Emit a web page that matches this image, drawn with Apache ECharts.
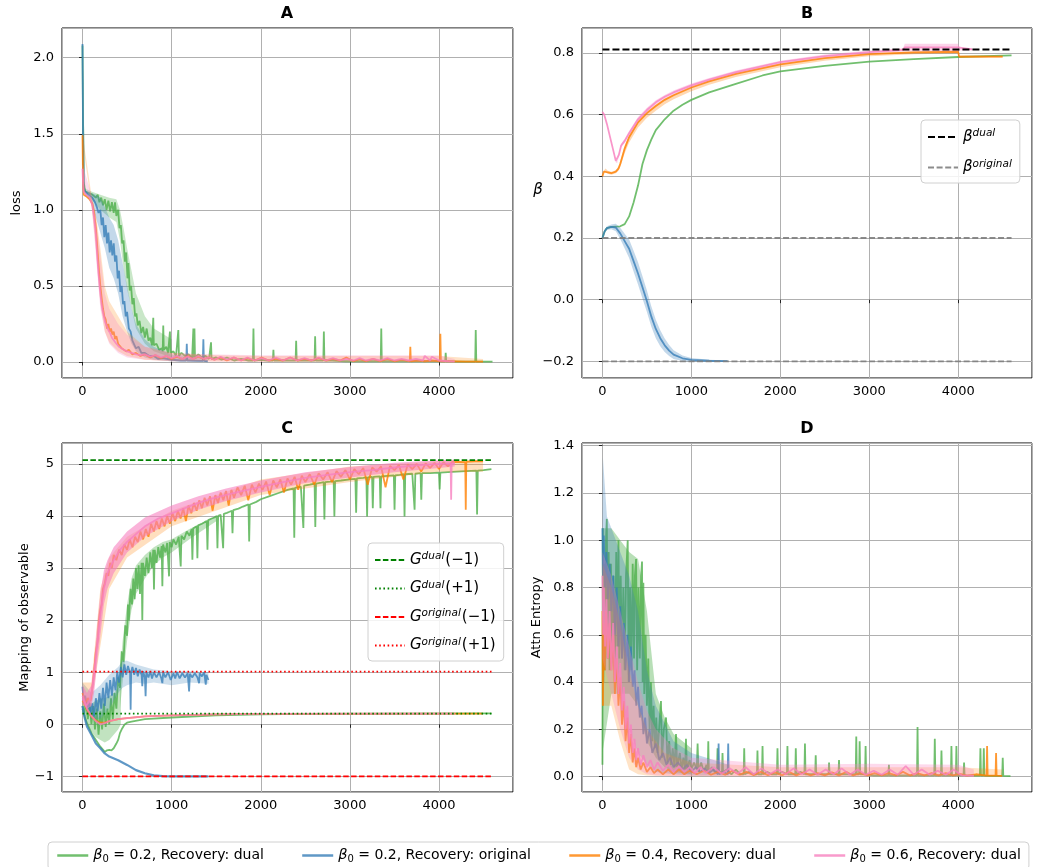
<!DOCTYPE html>
<html><head><meta charset="utf-8">
<script src="https://cdn.jsdelivr.net/npm/echarts@6/dist/echarts.min.js"></script>
<style>html,body{margin:0;padding:0;background:#fff}#c{width:1038px;height:867px}</style>
</head><body><div id="c"></div>
<script>
// ---------------- DATA ----------------
const REF_X = [0, 4600];
// Panel B reference levels
const BETA_DUAL = 0.811, BETA_ORIG = [0.2, -0.2];
// Panel C reference levels
const G_DUAL_M1 = 5.07, G_DUAL_P1 = 0.205, G_ORIG_M1 = -1.0, G_ORIG_P1 = 1.01;

// ---- Panel A (loss) ----
const A_green = [[0,2.08],[6,1.6],[14,1.18],[30,1.12],[70,1.11],[110,1.1],[150,1.08],[170,1.1],[190,1.05],[210,1.08],[230,1.03],[250,1.07],[270,1.0],[290,1.06],[310,0.99],[330,1.05],[350,0.98],[365,1.05],[380,0.96],[400,1.0],[415,0.88],[430,0.9],[445,0.78],[460,0.8],[475,0.66],[490,0.72],[505,0.55],[515,0.65],[530,0.47],[545,0.5],[560,0.38],[575,0.42],[590,0.3],[605,0.32],[620,0.24],[640,0.27],[660,0.19],[680,0.23],[700,0.16],[720,0.22],[740,0.14],[760,0.16],[780,0.11],[788,0.12],[794,0.29],[800,0.11],[830,0.12],[860,0.08],[890,0.09],[900,0.07],[906,0.24],[912,0.08],[940,0.1],[960,0.06],[975,0.07],[981,0.2],[988,0.06],[1020,0.07],[1050,0.04],[1068,0.05],[1075,0.21],[1082,0.04],[1110,0.06],[1150,0.04],[1190,0.05],[1230,0.03],[1240,0.04],[1244,0.22],[1250,0.03],[1256,0.22],[1262,0.03],[1300,0.05],[1340,0.03],[1380,0.04],[1420,0.02],[1436,0.03],[1442,0.13],[1448,0.02],[1500,0.03],[1560,0.015],[1620,0.03],[1700,0.01],[1780,0.02],[1860,0.01],[1912,0.01],[1918,0.22],[1924,0.01],[2000,0.015],[2080,0.01],[2136,0.01],[2142,0.08],[2148,0.01],[2220,0.01],[2300,0.01],[2391,0.01],[2397,0.14],[2403,0.01],[2500,0.01],[2604,0.01],[2610,0.17],[2616,0.01],[2702,0.01],[2708,0.2],[2714,0.01],[2800,0.01],[2950,0.005],[3100,0.005],[3250,0.005],[3346,0.005],[3352,0.22],[3358,0.005],[3500,0.005],[3700,0.005],[3900,0.005],[4069,0.005],[4075,0.06],[4081,0.005],[4200,0.003],[4406,0.003],[4412,0.21],[4418,0.003],[4600,0.002]];
const A_blue = [[0,2.09],[6,1.5],[14,1.15],[30,1.12],[70,1.1],[110,1.08],[140,1.05],[160,1.02],[180,0.98],[200,1.0],[215,0.9],[230,0.95],[245,0.82],[260,0.9],[275,0.78],[290,0.85],[305,0.72],[320,0.8],[335,0.7],[350,0.78],[365,0.66],[380,0.7],[395,0.55],[410,0.6],[425,0.46],[440,0.5],[455,0.38],[470,0.4],[485,0.3],[500,0.33],[520,0.22],[540,0.2],[560,0.14],[580,0.15],[600,0.09],[630,0.1],[660,0.06],[700,0.06],[750,0.04],[800,0.04],[850,0.02],[900,0.025],[1000,0.015],[1100,0.01],[1164,0.01],[1170,0.12],[1176,0.01],[1200,0.01],[1300,0.008],[1350,0.008],[1356,0.15],[1362,0.008],[1405,0.005]];
const A_orange = [[0,1.49],[6,1.2],[14,1.1],[40,1.09],[80,1.07],[110,1.04],[130,0.98],[150,0.88],[170,0.72],[185,0.6],[200,0.5],[215,0.42],[230,0.35],[245,0.3],[260,0.28],[275,0.22],[290,0.25],[305,0.2],[320,0.22],[335,0.18],[350,0.2],[365,0.15],[380,0.17],[400,0.12],[420,0.13],[440,0.09],[460,0.1],[490,0.07],[520,0.08],[560,0.05],[600,0.06],[650,0.04],[700,0.05],[760,0.03],[820,0.045],[880,0.025],[940,0.04],[1000,0.02],[1060,0.035],[1120,0.02],[1180,0.04],[1240,0.02],[1300,0.035],[1360,0.02],[1420,0.03],[1480,0.015],[1550,0.03],[1620,0.01],[1700,0.03],[1780,0.01],[1850,0.025],[1930,0.01],[2010,0.03],[2090,0.01],[2170,0.02],[2250,0.01],[2330,0.03],[2410,0.01],[2490,0.02],[2570,0.01],[2650,0.025],[2730,0.01],[2810,0.02],[2890,0.01],[2960,0.03],[3040,0.005],[3110,0.02],[3180,0.005],[3260,0.02],[3340,0.005],[3420,0.02],[3500,0.005],[3580,0.015],[3672,0.005],[3678,0.1],[3684,0.005],[3760,0.01],[3840,0.005],[3920,0.01],[4009,0.005],[4015,0.186],[4021,0.005],[4100,0.005],[4300,0.003],[4494,0.002]];
const A_pink = [[0,1.27],[6,1.18],[14,1.12],[40,1.1],[80,1.08],[110,1.03],[130,0.95],[150,0.84],[165,0.7],[180,0.58],[195,0.48],[210,0.4],[225,0.34],[240,0.3],[255,0.26],[270,0.24],[290,0.21],[310,0.19],[330,0.16],[350,0.15],[380,0.12],[410,0.1],[450,0.085],[500,0.07],[550,0.06],[600,0.05],[650,0.045],[700,0.05],[760,0.035],[820,0.045],[880,0.03],[940,0.04],[1000,0.025],[1060,0.04],[1120,0.02],[1180,0.035],[1240,0.02],[1300,0.04],[1360,0.02],[1420,0.03],[1480,0.015],[1550,0.035],[1620,0.015],[1700,0.03],[1780,0.01],[1850,0.03],[1930,0.01],[2010,0.025],[2090,0.01],[2170,0.03],[2250,0.01],[2330,0.03],[2410,0.01],[2490,0.025],[2570,0.01],[2650,0.03],[2730,0.01],[2810,0.025],[2890,0.01],[2960,0.02],[3040,0.01],[3110,0.025],[3180,0.01],[3260,0.02],[3340,0.01],[3420,0.025],[3500,0.01],[3580,0.02],[3660,0.01],[3740,0.02],[3820,0.01],[3840,0.04],[3900,0.01],[3920,0.035],[4000,0.01],[4100,0.005],[4176,0.003]];
// light bands (panel A)
const A_greenBandX = [0,30,100,200,300,380,420,460,500,550,600,700,800,1000];
const A_greenBandLo = [2.0,1.1,1.07,1.0,0.95,0.92,0.8,0.62,0.48,0.35,0.22,0.12,0.07,0.03];
const A_greenBandHi = [2.09,1.14,1.12,1.1,1.08,1.07,1.0,0.88,0.75,0.6,0.45,0.3,0.22,0.15];
const A_blueBandX = [0,30,100,150,200,250,300,350,400,450,500,550,600,700,800,1000,1200,1405];
const A_blueBandLo = [2.0,1.1,1.05,0.95,0.85,0.75,0.62,0.55,0.45,0.3,0.2,0.12,0.07,0.03,0.015,0.005,0.003,0.002];
const A_blueBandHi = [2.1,1.13,1.11,1.1,1.08,1.02,0.95,0.9,0.8,0.65,0.5,0.35,0.25,0.15,0.1,0.05,0.04,0.02];
const A_orangeBandX = [0,100,150,200,250,300,400,500,700,1000,1500,2000,3000,4000,4494];
const A_orangeBandLo = [1.45,1.03,0.75,0.38,0.2,0.13,0.07,0.04,0.015,0.005,0.003,0.002,0.002,0.002,0.002];
const A_orangeBandHi = [1.5,1.1,0.97,0.75,0.5,0.4,0.3,0.2,0.1,0.06,0.045,0.04,0.04,0.04,0.02];
const A_pinkBandX = [0,100,150,200,250,300,400,500,700,1000,1500,2000,3000,4000,4176];
const A_pinkBandLo = [1.2,1.05,0.7,0.35,0.2,0.12,0.06,0.03,0.015,0.005,0.003,0.002,0.002,0.002,0.002];
const A_pinkBandHi = [1.3,1.1,0.95,0.7,0.45,0.35,0.25,0.18,0.1,0.06,0.05,0.045,0.045,0.045,0.02];

// ---- Panel B (beta) ----
const B_green = [[0,0.2],[25,0.222],[50,0.232],[100,0.236],[150,0.237],[200,0.238],[250,0.245],[300,0.27],[350,0.315],[400,0.37],[450,0.44],[500,0.485],[550,0.52],[600,0.55],[700,0.585],[800,0.613],[900,0.632],[1000,0.648],[1200,0.672],[1500,0.7],[1800,0.727],[2000,0.74],[2500,0.758],[3000,0.772],[3500,0.78],[4000,0.787],[4600,0.792]];
const B_blueX = [0,25,50,100,150,200,250,300,350,400,450,500,550,600,650,700,750,800,900,1000,1200,1407];
const B_blueMean = [0.2,0.222,0.232,0.236,0.234,0.215,0.19,0.165,0.125,0.085,0.04,-0.005,-0.055,-0.095,-0.125,-0.148,-0.165,-0.178,-0.19,-0.195,-0.198,-0.199];
const B_blueLo = [0.2,0.218,0.226,0.228,0.222,0.197,0.166,0.135,0.091,0.049,0.004,-0.04,-0.088,-0.125,-0.151,-0.17,-0.183,-0.192,-0.199,-0.201,-0.201,-0.201];
const B_blueHi = [0.2,0.226,0.238,0.244,0.246,0.233,0.214,0.195,0.159,0.121,0.076,0.03,-0.022,-0.065,-0.099,-0.126,-0.147,-0.164,-0.181,-0.189,-0.195,-0.197];
const B_orangeX = [0,15,35,60,100,150,180,200,250,300,400,500,600,700,800,1000,1200,1500,2000,2500,3000,3500,4000,4010,4500];
const B_orangeMean = [0.4,0.415,0.42,0.413,0.41,0.415,0.425,0.44,0.49,0.527,0.575,0.605,0.628,0.648,0.663,0.688,0.708,0.732,0.763,0.783,0.796,0.802,0.804,0.788,0.788];
const B_orangeLo = [0.4,0.412,0.415,0.408,0.405,0.41,0.418,0.43,0.475,0.51,0.558,0.59,0.613,0.634,0.65,0.676,0.697,0.722,0.754,0.775,0.789,0.796,0.798,0.784,0.785];
const B_orangeHi = [0.4,0.418,0.425,0.418,0.415,0.42,0.432,0.45,0.5,0.535,0.582,0.611,0.633,0.652,0.667,0.692,0.712,0.736,0.767,0.787,0.8,0.806,0.808,0.792,0.791];
const B_pinkX = [0,20,50,100,150,165,185,210,250,300,400,500,600,700,800,1000,1200,1500,2000,2500,3000,3380,3400,4000,4020,4157];
const B_pinkMean = [0.609,0.6,0.57,0.51,0.45,0.446,0.47,0.5,0.515,0.54,0.585,0.615,0.64,0.658,0.672,0.695,0.714,0.738,0.77,0.79,0.803,0.81,0.818,0.818,0.812,0.812];
const B_pinkLo = [0.607,0.597,0.566,0.506,0.446,0.442,0.465,0.494,0.508,0.533,0.578,0.608,0.633,0.652,0.666,0.689,0.709,0.733,0.765,0.785,0.798,0.805,0.806,0.806,0.808,0.808];
const B_pinkHi = [0.611,0.603,0.574,0.514,0.454,0.45,0.476,0.506,0.522,0.547,0.592,0.622,0.647,0.664,0.678,0.701,0.719,0.743,0.775,0.795,0.808,0.815,0.83,0.83,0.816,0.816];

// ---- Panel C (mapping of observable) ----
const C_greenUp = [[0,0.35],[20,0.2],[40,0.45],[60,0.1],[80,0.4],[100,0.0],[120,0.35],[140,-0.1],[160,0.3],[180,-0.2],[200,0.25],[220,-0.1],[240,0.4],[260,-0.05],[280,0.3],[300,0.0],[320,0.5],[340,0.1],[360,0.6],[380,0.3],[400,0.9],[420,0.7],[440,1.4],[460,1.2],[480,1.9],[500,1.7],[510,2.3],[520,2.0],[540,2.6],[555,2.3],[570,2.8],[585,2.4],[600,3.0],[615,2.6],[630,3.05],[645,2.5],[663,3.1],[671,2.0],[679,3.1],[700,2.85],[720,3.2],[740,2.9],[760,3.3],[780,3.0],[794,3.35],[802,2.59],[810,3.35],[830,3.1],[850,3.4],[870,3.2],[888,3.42],[896,2.65],[904,3.45],[930,3.3],[950,3.48],[963,3.45],[971,2.84],[979,3.5],[1000,3.4],[1020,3.55],[1050,3.45],[1080,3.6],[1094,3.6],[1102,3.03],[1110,3.62],[1140,3.55],[1170,3.7],[1200,3.62],[1225,3.75],[1233,3.16],[1241,3.76],[1281,3.8],[1289,3.19],[1297,3.82],[1340,3.85],[1370,3.88],[1394,3.9],[1402,3.35],[1410,3.92],[1450,3.95],[1480,3.97],[1506,4.0],[1514,3.38],[1522,4.0],[1550,4.02],[1570,4.03],[1578,3.38],[1586,4.04],[1620,4.06],[1650,4.08],[1675,4.1],[1683,3.67],[1691,4.11],[1750,4.14],[1800,4.18],[1862,4.22],[1870,3.51],[1878,4.22],[1950,4.27],[2000,4.32],[2100,4.38],[2200,4.44],[2300,4.5],[2368,4.53],[2376,3.58],[2384,4.54],[2450,4.56],[2470,4.57],[2478,3.77],[2486,4.58],[2550,4.6],[2604,4.62],[2612,3.79],[2620,4.62],[2680,4.64],[2706,4.65],[2714,3.93],[2722,4.65],[2780,4.66],[2818,4.67],[2826,3.99],[2834,4.67],[2900,4.68],[3000,4.7],[3062,4.71],[3070,4.06],[3078,4.72],[3150,4.73],[3185,4.74],[3193,3.99],[3201,4.74],[3249,4.75],[3257,4.15],[3265,4.75],[3335,4.76],[3343,4.15],[3351,4.76],[3420,4.77],[3493,4.78],[3501,4.12],[3509,4.78],[3560,4.79],[3605,4.8],[3613,3.99],[3621,4.8],[3700,4.81],[3718,4.81],[3726,4.12],[3734,4.81],[3793,4.82],[3801,4.31],[3809,4.82],[3900,4.82],[3999,4.83],[4007,4.51],[4015,4.83],[4100,4.84],[4200,4.85],[4300,4.86],[4419,4.87],[4427,4.03],[4435,4.87],[4500,4.88],[4588,4.9]];
const C_greenUpBandX = [420,450,500,550,600,700,800,900,1000,1200,1500];
const C_greenUpBandLo = [0.3,0.8,1.6,2.2,2.5,2.8,3.05,3.2,3.3,3.55,3.9];
const C_greenUpBandHi = [1.0,1.6,2.3,2.8,3.05,3.25,3.4,3.5,3.55,3.75,4.0];
const C_greenLow = [[0,0.3],[25,0.15],[50,0.02],[100,-0.17],[150,-0.3],[200,-0.43],[250,-0.53],[275,-0.5],[300,-0.49],[325,-0.5],[350,-0.46],[380,-0.37],[400,-0.3],[420,-0.17],[445,-0.08],[470,-0.01],[500,0.03],[550,0.05],[700,0.1],[1000,0.13],[1500,0.17],[2000,0.19],[2500,0.2],[4588,0.21]];
const C_greenNoiseX = [0,50,100,150,200,250,300,350,400,430];
const C_greenNoiseLo = [0.2,0.0,-0.15,-0.25,-0.3,-0.35,-0.3,-0.2,-0.1,0.0];
const C_greenNoiseHi = [0.6,0.5,0.4,0.45,0.5,0.5,0.55,0.6,0.7,0.9];
const C_blueUp = [[0,0.72],[15,0.4],[30,0.55],[50,0.3],[70,0.45],[90,0.2],[110,0.4],[130,0.15],[150,0.5],[170,0.25],[190,0.6],[210,0.3],[230,0.7],[250,0.35],[270,0.8],[290,0.5],[310,0.85],[330,0.55],[350,0.9],[370,0.65],[390,1.0],[410,0.8],[430,1.1],[450,0.9],[470,1.15],[490,0.95],[510,1.12],[534,0.98],[540,0.28],[546,1.0],[560,1.1],[580,0.95],[600,1.08],[620,0.92],[640,1.05],[663,0.95],[671,0.73],[680,1.02],[700,0.9],[708,0.54],[716,1.0],[740,0.9],[760,1.02],[780,0.88],[800,1.0],[830,0.9],[860,1.0],[885,0.88],[896,0.79],[905,1.0],[930,0.9],[960,1.0],[990,0.85],[1020,0.98],[1040,0.88],[1060,1.0],[1090,0.88],[1120,0.98],[1150,0.9],[1180,0.98],[1196,0.63],[1205,0.97],[1230,0.9],[1260,0.98],[1290,0.9],[1308,0.79],[1315,0.98],[1340,0.92],[1365,1.0],[1383,0.76],[1390,0.95],[1413,0.85]];
const C_blueUpBandX = [0,100,200,300,400,450,500,600,700,800,1000,1200,1413];
const C_blueUpBandLo = [0.4,0.1,0.1,0.3,0.6,0.7,0.75,0.8,0.78,0.8,0.75,0.8,0.78];
const C_blueUpBandHi = [0.8,0.6,0.75,0.95,1.1,1.22,1.22,1.15,1.1,1.05,1.02,1.02,1.0];
const C_blueLow = [[0,0.35],[25,0.12],[50,-0.04],[100,-0.2],[150,-0.37],[200,-0.46],[250,-0.56],[300,-0.62],[400,-0.69],[500,-0.78],[600,-0.88],[700,-0.94],[800,-0.98],[900,-0.995],[1000,-1.0],[1413,-1.0]];
const C_orangeUp = [[0,0.6],[30,0.4],[60,0.5],[90,0.45],[110,0.7],[130,1.0],[150,1.4],[170,1.6],[185,2.0],[200,2.2],[215,2.3],[230,2.6],[250,2.7],[270,2.9],[290,2.85],[310,3.1],[330,3.0],[350,3.25],[380,3.15],[410,3.35],[440,3.25],[470,3.45],[500,3.35],[530,3.55],[560,3.4],[590,3.6],[620,3.5],[650,3.7],[680,3.55],[710,3.75],[740,3.6],[770,3.85],[800,3.7],[830,3.9],[860,3.75],[890,3.95],[920,3.8],[950,4.0],[980,3.85],[1010,4.05],[1040,3.9],[1070,4.1],[1100,3.95],[1130,4.15],[1160,3.9],[1190,4.2],[1220,4.05],[1250,4.25],[1280,4.1],[1310,4.3],[1340,4.15],[1370,4.35],[1400,4.2],[1430,4.38],[1460,4.1],[1490,4.4],[1520,4.25],[1550,4.45],[1580,4.3],[1610,4.48],[1640,4.2],[1670,4.5],[1700,4.35],[1740,4.55],[1780,4.4],[1820,4.58],[1860,4.3],[1900,4.6],[1940,4.45],[1980,4.62],[2020,4.5],[2060,4.66],[2100,4.4],[2140,4.68],[2180,4.55],[2220,4.7],[2260,4.45],[2300,4.72],[2340,4.6],[2380,4.75],[2420,4.5],[2460,4.77],[2500,4.65],[2550,4.8],[2600,4.6],[2650,4.82],[2700,4.7],[2750,4.84],[2800,4.65],[2850,4.86],[2900,4.75],[2950,4.88],[3000,4.7],[3050,4.9],[3100,4.8],[3150,4.92],[3200,4.6],[3250,4.93],[3300,4.85],[3350,4.95],[3400,4.55],[3450,4.96],[3500,4.88],[3550,4.98],[3600,4.7],[3650,4.99],[3700,4.9],[3750,5.0],[3800,4.85],[3850,5.01],[3900,4.92],[3950,5.02],[4000,4.9],[4050,5.03],[4100,4.95],[4150,5.04],[4294,5.03],[4300,4.12],[4306,5.04],[4400,5.05],[4494,5.05]];
const C_orangeUpBandX = [0,100,200,300,500,1000,2000,3000,4000,4494];
const C_orangeUpBandLo = [0.35,0.4,1.5,2.6,3.2,3.8,4.4,4.65,4.85,4.85];
const C_orangeUpBandHi = [0.8,0.8,2.6,3.2,3.6,4.1,4.7,4.95,5.05,5.07];
const C_orangeLow = [[0,0.45],[25,0.38],[50,0.28],[100,0.15],[150,0.07],[200,0.03],[250,0.03],[300,0.06],[400,0.1],[500,0.12],[700,0.15],[1000,0.17],[1500,0.19],[2000,0.2],[4494,0.205]];
const C_pinkUp = [[0,0.55],[40,0.35],[80,0.45],[110,0.7],[130,0.95],[160,1.45],[200,2.1],[240,2.6],[280,2.9],[350,3.15],[420,3.35],[500,3.5],[600,3.65],[700,3.8],[850,3.95],[1000,4.05],[1150,4.15],[1300,4.25],[1450,4.33],[1600,4.4],[1800,4.48],[2000,4.56],[2250,4.65],[2500,4.73],[2750,4.79],[3000,4.84],[3250,4.88],[3500,4.93],[3750,4.97],[4000,5.0],[4130,5.01],[4136,4.31],[4142,5.01],[4176,5.01]];
const C_pinkUpBandX = [0,50,100,130,160,200,240,280,350,500,700,1000,1300,1600,2000,2500,3000,3500,4000,4176];
const C_pinkUpBandLo = [0.4,0.3,0.35,0.6,1.1,1.7,2.3,2.6,2.9,3.3,3.6,3.9,4.12,4.28,4.45,4.63,4.74,4.84,4.92,4.95];
const C_pinkUpBandHi = [0.75,0.6,0.75,1.2,1.8,2.5,2.95,3.15,3.4,3.7,3.97,4.2,4.38,4.52,4.68,4.84,4.94,5.02,5.07,5.08];
const C_pinkLow = [[0,0.5],[25,0.42],[50,0.3],[100,0.16],[150,0.06],[200,0.0],[250,0.02],[300,0.06],[400,0.1],[500,0.12],[700,0.15],[1000,0.17],[1500,0.19],[2000,0.2],[4176,0.205]];

// ---- Panel D (attention entropy) ----
const D_green = [[0,0.05],[4,1.05],[10,0.4],[20,0.9],[30,0.45],[40,1.0],[49,1.09],[58,0.5],[70,0.95],[80,0.45],[95,0.9],[110,0.5],[125,0.85],[140,0.45],[155,0.95],[170,0.55],[180,1.0],[190,0.5],[205,0.85],[220,0.5],[235,0.8],[250,0.45],[265,0.85],[284,1.0],[295,0.4],[310,0.8],[325,0.45],[340,0.9],[355,0.5],[365,0.85],[378,0.92],[390,0.45],[405,0.8],[420,0.5],[435,0.85],[445,0.91],[452,0.4],[460,0.82],[470,0.35],[485,0.6],[500,0.3],[515,0.5],[530,0.2],[545,0.4],[560,0.15],[575,0.3],[590,0.12],[605,0.25],[620,0.1],[640,0.22],[658,0.32],[670,0.08],[690,0.2],[715,0.25],[730,0.06],[750,0.15],[770,0.05],[790,0.12],[810,0.04],[827,0.18],[840,0.04],[870,0.1],[890,0.03],[910,0.08],[930,0.03],[939,0.16],[950,0.03],[980,0.07],[1000,0.03],[1030,0.06],[1060,0.03],[1070,0.14],[1080,0.02],[1110,0.06],[1140,0.02],[1170,0.05],[1184,0.02],[1190,0.15],[1196,0.02],[1230,0.04],[1260,0.02],[1288,0.02],[1294,0.12],[1300,0.02],[1344,0.02],[1350,0.1],[1356,0.02],[1400,0.03],[1450,0.01],[1500,0.03],[1550,0.01],[1588,0.01],[1594,0.12],[1600,0.01],[1650,0.02],[1700,0.01],[1737,0.01],[1743,0.11],[1749,0.01],[1794,0.01],[1800,0.13],[1806,0.01],[1850,0.02],[1900,0.01],[1962,0.01],[1968,0.12],[1974,0.01],[2020,0.02],[2074,0.01],[2080,0.13],[2086,0.01],[2130,0.01],[2168,0.01],[2174,0.12],[2180,0.01],[2230,0.02],[2271,0.01],[2277,0.14],[2283,0.01],[2340,0.01],[2392,0.01],[2398,0.09],[2404,0.01],[2480,0.01],[2542,0.01],[2548,0.06],[2554,0.01],[2600,0.01],[2654,0.01],[2660,0.07],[2666,0.01],[2750,0.01],[2848,0.01],[2854,0.17],[2860,0.01],[2886,0.01],[2892,0.15],[2898,0.01],[2953,0.01],[2959,0.13],[2965,0.01],[3050,0.005],[3150,0.005],[3215,0.005],[3221,0.05],[3227,0.005],[3350,0.005],[3450,0.005],[3537,0.005],[3543,0.21],[3549,0.005],[3650,0.005],[3731,0.005],[3737,0.16],[3743,0.005],[3806,0.005],[3812,0.11],[3818,0.005],[3918,0.005],[3924,0.13],[3930,0.005],[3974,0.005],[3980,0.13],[3986,0.005],[4060,0.005],[4066,0.06],[4072,0.005],[4160,0.004],[4244,0.004],[4250,0.12],[4256,0.004],[4282,0.004],[4288,0.12],[4294,0.004],[4400,0.003],[4495,0.003],[4501,0.08],[4507,0.003],[4588,0.002]];
const D_greenBandX = [0,100,200,300,400,500,600,700,800,1000];
const D_greenBandLo = [0.1,0.35,0.35,0.35,0.3,0.15,0.08,0.04,0.02,0.01];
const D_greenBandHi = [1.05,1.05,1.0,0.95,0.92,0.7,0.35,0.25,0.18,0.12];
const D_blue = [[0,1.05],[5,0.85],[15,1.02],[30,0.8],[45,0.95],[60,0.75],[80,0.9],[100,0.7],[120,0.85],[140,0.6],[160,0.8],[180,0.55],[200,0.72],[220,0.5],[240,0.65],[260,0.45],[280,0.6],[300,0.4],[320,0.55],[340,0.38],[360,0.45],[380,0.3],[400,0.38],[420,0.25],[440,0.3],[460,0.18],[480,0.25],[500,0.14],[530,0.2],[560,0.1],[600,0.14],[640,0.07],[680,0.1],[720,0.05],[760,0.08],[800,0.04],[850,0.06],[900,0.03],[950,0.05],[1000,0.02],[1050,0.04],[1100,0.02],[1150,0.035],[1200,0.015],[1250,0.03],[1300,0.01],[1306,0.14],[1312,0.01],[1360,0.02],[1408,0.01],[1414,0.14],[1420,0.01]];
const D_blueBandX = [0,5,50,100,200,300,400,500,600,800,1000,1420];
const D_blueBandLo = [0.6,0.7,0.6,0.5,0.35,0.2,0.1,0.05,0.02,0.01,0.005,0.005];
const D_blueBandHi = [1.1,1.35,1.1,1.05,0.95,0.85,0.7,0.45,0.3,0.15,0.1,0.05];
const D_orange = [[0,0.7],[5,0.3],[12,0.65],[25,0.45],[40,0.7],[60,0.5],[80,0.65],[100,0.45],[120,0.6],[140,0.35],[160,0.5],[180,0.3],[200,0.42],[220,0.22],[240,0.32],[260,0.15],[280,0.25],[300,0.1],[320,0.18],[340,0.06],[360,0.12],[380,0.04],[400,0.08],[430,0.03],[460,0.06],[500,0.02],[540,0.04],[580,0.015],[620,0.03],[680,0.01],[740,0.03],[800,0.01],[860,0.03],[920,0.01],[980,0.025],[1060,0.01],[1140,0.025],[1220,0.008],[1300,0.02],[1380,0.008],[1460,0.025],[1540,0.008],[1620,0.02],[1700,0.006],[1780,0.02],[1860,0.006],[1940,0.018],[2020,0.006],[2100,0.02],[2180,0.005],[2260,0.018],[2340,0.005],[2420,0.015],[2500,0.005],[2580,0.018],[2660,0.005],[2740,0.02],[2820,0.005],[2900,0.015],[2980,0.005],[3060,0.015],[3140,0.005],[3220,0.015],[3300,0.005],[3380,0.02],[3460,0.005],[3540,0.015],[3620,0.005],[3700,0.015],[3780,0.005],[3860,0.015],[3940,0.005],[4020,0.012],[4100,0.004],[4200,0.01],[4319,0.004],[4325,0.13],[4331,0.004],[4420,0.004],[4426,0.1],[4432,0.004],[4494,0.003]];
const D_orangeBandX = [0,100,200,300,400,500,700,1000,2000,3000,4000,4494];
const D_orangeBandLo = [0.3,0.3,0.15,0.03,0.01,0.005,0.003,0.002,0.002,0.002,0.002,0.002];
const D_orangeBandHi = [0.9,0.8,0.65,0.45,0.3,0.2,0.1,0.06,0.04,0.04,0.04,0.03];
const D_pink = [[0,0.85],[8,0.6],[16,0.8],[30,0.55],[45,0.75],[60,0.5],[80,0.7],[100,0.45],[120,0.65],[140,0.4],[160,0.55],[180,0.35],[200,0.48],[220,0.28],[240,0.38],[260,0.2],[280,0.3],[300,0.14],[320,0.22],[340,0.1],[360,0.16],[380,0.07],[400,0.12],[430,0.05],[460,0.09],[500,0.04],[540,0.07],[580,0.03],[620,0.06],[680,0.025],[740,0.05],[800,0.02],[860,0.045],[920,0.02],[980,0.04],[1040,0.015],[1100,0.04],[1160,0.015],[1250,0.04],[1340,0.012],[1430,0.035],[1520,0.012],[1610,0.04],[1700,0.01],[1790,0.035],[1880,0.01],[1970,0.03],[2060,0.01],[2150,0.035],[2240,0.01],[2330,0.03],[2420,0.008],[2510,0.03],[2600,0.01],[2690,0.035],[2780,0.008],[2870,0.03],[2960,0.008],[3050,0.025],[3140,0.008],[3230,0.03],[3320,0.008],[3410,0.045],[3500,0.008],[3590,0.03],[3680,0.008],[3770,0.025],[3860,0.008],[3950,0.03],[4040,0.005],[4176,0.003]];
const D_pinkBandX = [0,100,200,300,400,500,600,800,1000,2000,3000,4000,4176];
const D_pinkBandLo = [0.5,0.35,0.2,0.08,0.03,0.01,0.005,0.003,0.003,0.002,0.002,0.002,0.002];
const D_pinkBandHi = [0.95,0.85,0.7,0.55,0.4,0.28,0.2,0.12,0.08,0.05,0.055,0.05,0.03];

// ---------------- CHART ----------------
const FONT = 'DejaVu Sans';
const COL = {g:'#4daf4a', b:'#377eb8', o:'#ff7f00', p:'#f781bf'};
const ZS = {g:2, b:3, o:4, p:5, ref:7};
const series = [];
function addLine(panel, name, pts, color, opt) {
  opt = opt || {};
  series.push({type:'line', name:name, xAxisIndex:panel, yAxisIndex:panel, data:pts,
    symbol:'none', showSymbol:false, silent:true, animation:false, clip:true,
    lineStyle:{color:color, width:opt.width||1.8, opacity:(opt.opacity!=null?opt.opacity:0.8), type:opt.type||'solid', cap:'butt'},
    itemStyle:{color:color}, z:opt.z||2});
}
// shaded band drawn as a polygon through the axis scales (api.coord)
function addBand(panel, xs, lo, hi, color, opacity, z) {
  const poly = xs.map((x,i)=>[x, hi[i]]).concat(xs.map((x,i)=>[x, lo[i]]).reverse());
  series.push({type:'custom', coordinateSystem:'cartesian2d', xAxisIndex:panel, yAxisIndex:panel,
    silent:true, animation:false, clip:true, z:z||1, encode:{x:0, y:1},
    data:[[xs[0], lo[0]]],
    renderItem:(params, api) => ({type:'polygon', shape:{points:poly.map(p=>api.coord(p))},
      style:{fill:color, opacity:opacity}})});
}
const zip = (xs, ys) => xs.map((x,i)=>[x, ys[i]]);
const flat = (v) => REF_X.map(x=>[x, v]);

// Panel A
addBand(0,A_greenBandX,A_greenBandLo,A_greenBandHi,COL.g,0.3,ZS.g); addLine(0,'g',A_green,COL.g,{z:ZS.g});
addBand(0,A_blueBandX,A_blueBandLo,A_blueBandHi,COL.b,0.3,ZS.b); addLine(0,'b',A_blue,COL.b,{z:ZS.b});
addBand(0,A_orangeBandX,A_orangeBandLo,A_orangeBandHi,COL.o,0.22,ZS.o); addLine(0,'o',A_orange,COL.o,{z:ZS.o});
addBand(0,A_pinkBandX,A_pinkBandLo,A_pinkBandHi,COL.p,0.28,ZS.p); addLine(0,'p',A_pink,COL.p,{z:ZS.p});
// Panel B
addLine(1,'g',B_green,COL.g,{z:ZS.g});
addBand(1,B_blueX,B_blueLo,B_blueHi,COL.b,0.3,ZS.b); addLine(1,'b',zip(B_blueX,B_blueMean),COL.b,{z:ZS.b});
addBand(1,B_orangeX,B_orangeLo,B_orangeHi,COL.o,0.3,ZS.o); addLine(1,'o',zip(B_orangeX,B_orangeMean),COL.o,{z:ZS.o});
addBand(1,B_pinkX,B_pinkLo,B_pinkHi,COL.p,0.35,ZS.p); addLine(1,'p',zip(B_pinkX,B_pinkMean),COL.p,{z:ZS.p});
addLine(1,'bd',flat(BETA_DUAL),'#000',{width:2,opacity:1,type:[7,3],z:ZS.ref});
addLine(1,'bo',flat(BETA_ORIG[0]),'#808080',{width:1.8,opacity:0.9,type:[6,2.6],z:ZS.ref});
addLine(1,'bo',flat(BETA_ORIG[1]),'#808080',{width:1.8,opacity:0.9,type:[6,2.6],z:ZS.ref});
// Panel C
addBand(2,C_greenNoiseX,C_greenNoiseLo,C_greenNoiseHi,COL.g,0.35,ZS.g);
addBand(2,C_greenUpBandX,C_greenUpBandLo,C_greenUpBandHi,COL.g,0.35,ZS.g);
addLine(2,'g',C_greenUp,COL.g,{z:ZS.g}); addLine(2,'g',C_greenLow,COL.g,{z:ZS.g});
addBand(2,C_blueUpBandX,C_blueUpBandLo,C_blueUpBandHi,COL.b,0.25,ZS.b);
addLine(2,'b',C_blueUp,COL.b,{z:ZS.b}); addLine(2,'b',C_blueLow,COL.b,{width:2.2,z:ZS.b});
addBand(2,C_orangeUpBandX,C_orangeUpBandLo,C_orangeUpBandHi,COL.o,0.25,ZS.o);
addLine(2,'o',C_orangeUp,COL.o,{z:ZS.o}); addLine(2,'o',C_orangeLow,COL.o,{z:ZS.o});
addBand(2,C_pinkUpBandX,C_pinkUpBandLo,C_pinkUpBandHi,COL.p,0.6,ZS.p);
addLine(2,'p',C_pinkUp,COL.p,{z:ZS.p}); addLine(2,'p',C_pinkLow,COL.p,{z:ZS.p});
addLine(2,'Gd-',flat(G_DUAL_M1),'#008000',{width:1.8,opacity:1,type:[5.5,2.4],z:ZS.ref});
addLine(2,'Gd+',flat(G_DUAL_P1),'#008000',{width:1.8,opacity:1,type:[1.6,2.6],z:ZS.ref});
addLine(2,'Go-',flat(G_ORIG_M1),'#ff0000',{width:1.8,opacity:1,type:[5.5,2.4],z:ZS.ref});
addLine(2,'Go+',flat(G_ORIG_P1),'#ff0000',{width:1.8,opacity:1,type:[1.6,2.6],z:ZS.ref});
// Panel D
addBand(3,D_greenBandX,D_greenBandLo,D_greenBandHi,COL.g,0.4,ZS.g); addLine(3,'g',D_green,COL.g,{z:ZS.g});
addBand(3,D_blueBandX,D_blueBandLo,D_blueBandHi,COL.b,0.3,ZS.b); addLine(3,'b',D_blue,COL.b,{z:ZS.b});
addBand(3,D_orangeBandX,D_orangeBandLo,D_orangeBandHi,COL.o,0.22,ZS.o); addLine(3,'o',D_orange,COL.o,{z:ZS.o});
addBand(3,D_pinkBandX,D_pinkBandLo,D_pinkBandHi,COL.p,0.3,ZS.p); addLine(3,'p',D_pink,COL.p,{z:ZS.p});

const grids = [
  {left:62, top:28, width:451, height:350},
  {left:582, top:28, width:450, height:350},
  {left:62, top:443, width:451, height:349},
  {left:582, top:443, width:450, height:349}
].map(g => Object.assign(g, {show:true, borderColor:'#000', borderWidth:1, backgroundColor:'rgba(0,0,0,0)', containLabel:false}));

const minus = s => s.replace('-', '\u2212');
const yDefs = [
  {min:-0.105, max:2.195, split:5, fmt:v=>v.toFixed(1), name:'loss', gap:39},
  {min:-0.254, max:0.881, split:5, fmt:v=>minus(v.toFixed(1)), name:'', gap:39},
  {min:-1.3, max:5.4, split:6, fmt:v=>minus(String(Math.round(v))), name:'Mapping of observable', gap:30},
  {min:-0.065, max:1.411, split:7, fmt:v=>v.toFixed(1), name:'Attn Entropy', gap:39}
];
const axisCommon = {
  axisLine:{show:false},
  axisTick:{show:true, length:3.5, lineStyle:{color:'#000', width:0.8}},
  splitLine:{show:true, lineStyle:{color:'#b0b0b0', width:1}},
  axisLabel:{fontFamily:FONT, fontSize:13, color:'#000', margin:7, showMinLabel:false, showMaxLabel:false}
};
const xAxes = [0,1,2,3].map(i => ({type:'value', gridIndex:i, min:-230, max:4830, splitNumber:5,
  axisLine:axisCommon.axisLine, axisTick:axisCommon.axisTick, splitLine:axisCommon.splitLine,
  axisLabel:Object.assign({}, axisCommon.axisLabel, {formatter:v=>String(Math.round(v))})}));
const yAxes = yDefs.map((d,i) => ({type:'value', gridIndex:i, min:d.min, max:d.max, splitNumber:d.split,
  name:d.name, nameLocation:'middle', nameGap:d.gap, nameRotate:90,
  nameTextStyle:{fontFamily:FONT, color:'#000', fontSize:13},
  axisLine:axisCommon.axisLine, axisTick:axisCommon.axisTick, splitLine:axisCommon.splitLine,
  axisLabel:Object.assign({}, axisCommon.axisLabel, {formatter:d.fmt, margin:8})}));

const LEG_TEXT = {
  g:'{i|\u03b2}{s|0} = 0.2, Recovery: dual',
  b:'{i|\u03b2}{s|0} = 0.2, Recovery: original',
  o:'{i|\u03b2}{s|0} = 0.4, Recovery: dual',
  p:'{i|\u03b2}{s|0} = 0.6, Recovery: dual',
  bd:'{I|\u03b2}{u|dual}',
  bo:'{I|\u03b2}{u|original}',
  'Gd-':'{I|G}{u|dual}{n|(\u22121)}',
  'Gd+':'{I|G}{u|dual}{n|(+1)}',
  'Go-':'{I|G}{u|original}{n|(\u22121)}',
  'Go+':'{I|G}{u|original}{n|(+1)}'
};
const rich = {
  i:{fontFamily:FONT, fontStyle:'italic', fontSize:14.5, color:'#000'},
  s:{fontFamily:FONT, fontSize:10, color:'#000', verticalAlign:'bottom', padding:[7,0,0,0]},
  I:{fontFamily:FONT, fontStyle:'italic', fontSize:15, color:'#000'},
  u:{fontFamily:FONT, fontStyle:'italic', fontSize:10.5, color:'#000', verticalAlign:'top', padding:[0,1,7,0]},
  n:{fontFamily:FONT, fontSize:15, color:'#000'}
};
const legBase = {formatter:n=>LEG_TEXT[n], selectedMode:false, backgroundColor:'rgba(255,255,255,0.85)',
  borderColor:'#d0d0d0', borderWidth:1, borderRadius:4, itemStyle:{opacity:0},
  textStyle:{fontFamily:FONT, fontSize:14, color:'#000', rich:rich}};

const option = {
  animation:false,
  backgroundColor:'#fff',
  grid:grids, xAxis:xAxes, yAxis:yAxes, series:series,
  legend:[
    Object.assign({}, legBase, {data:['g','b','o','p'], orient:'horizontal', left:48, top:842, itemWidth:31, itemHeight:14, itemGap:37, padding:[6,8], lineStyle:{width:2.5}}),
    Object.assign({}, legBase, {data:['bd','bo'], orient:'vertical', left:921, top:120, itemWidth:30, itemHeight:14, itemGap:14, padding:[8,8,8,6]}),
    Object.assign({}, legBase, {data:['Gd-','Gd+','Go-','Go+'], orient:'vertical', left:368, top:543, itemWidth:30, itemHeight:14, itemGap:12, padding:[8,8,8,6]})
  ],
  graphic:[
    {type:'text', x:287, y:6, style:{text:'A', font:'bold 16px "DejaVu Sans"', textAlign:'center', fill:'#000'}},
    {type:'text', x:807, y:6, style:{text:'B', font:'bold 16px "DejaVu Sans"', textAlign:'center', fill:'#000'}},
    {type:'text', x:287, y:421, style:{text:'C', font:'bold 16px "DejaVu Sans"', textAlign:'center', fill:'#000'}},
    {type:'text', x:807, y:421, style:{text:'D', font:'bold 16px "DejaVu Sans"', textAlign:'center', fill:'#000'}},
    {type:'text', x:538, y:190, style:{text:'\u03b2', font:'italic 15px "DejaVu Sans"', textAlign:'center', textVerticalAlign:'middle', fill:'#000'}}
  ]
};
const chart = echarts.init(document.getElementById('c'), null, {renderer:'canvas'});
chart.setOption(option);
</script></body></html>
